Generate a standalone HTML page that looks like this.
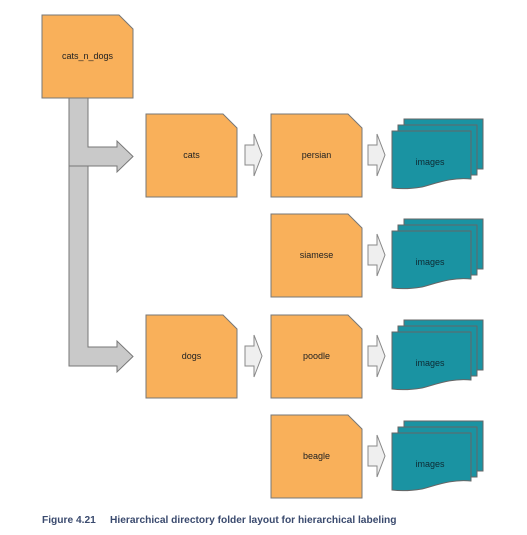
<!DOCTYPE html>
<html><head><meta charset="utf-8"><style>
html,body{margin:0;padding:0;background:#fff;}
svg{display:block;}
text{font-family:"Liberation Sans",sans-serif;}
</style></head><body>
<svg width="527" height="535" viewBox="0 0 527 535" xmlns="http://www.w3.org/2000/svg">
<defs>
<g id="folder"><path d="M0,0 H77 L91,14 V83 H0 Z" fill="#f9b05a" stroke="#777" stroke-width="1"/></g>
<g id="arr"><path d="M0,11 H9 V0 L17,21 L9,42 V31 H0 Z" fill="#efefef" stroke="#888" stroke-width="1"/></g>
<g id="imgs">
<rect x="12" y="-12" width="79" height="50" fill="#1a93a2" stroke="#666"/>
<rect x="6" y="-6" width="79" height="50" fill="#1a93a2" stroke="#666"/>
<path d="M0,0 H79 V48 C60,46 45,52 30,56 C18,58 8,58 0,57 Z" fill="#1a93a2" stroke="#666"/>
<text x="38" y="34" font-size="9" text-anchor="middle" fill="#0d2a33">images</text>
</g>
</defs>
<path d="M69,98 H88 V147 H117 V141 L133,156.5 L117,172 V166 H88 V347 H117 V341 L133,356.5 L117,372 V366 H69 Z" fill="#c9c9c9" stroke="#777" stroke-width="1"/>
<line x1="69" y1="166" x2="88" y2="166" stroke="#777"/>

<use href="#folder" x="42" y="15"/>
<text x="87.5" y="59" font-size="9" text-anchor="middle" fill="#222">cats_n_dogs</text>

<use href="#folder" x="146" y="114"/><text x="191.5" y="158" font-size="9" text-anchor="middle" fill="#222">cats</text>
<use href="#folder" x="146" y="315"/><text x="191.5" y="359" font-size="9" text-anchor="middle" fill="#222">dogs</text>

<use href="#arr" x="245" y="134"/>
<use href="#arr" x="245" y="335"/>

<use href="#folder" x="271" y="114"/><text x="316.5" y="158" font-size="9" text-anchor="middle" fill="#222">persian</text>
<use href="#folder" x="271" y="214"/><text x="316.5" y="258" font-size="9" text-anchor="middle" fill="#222">siamese</text>
<use href="#folder" x="271" y="315"/><text x="316.5" y="359" font-size="9" text-anchor="middle" fill="#222">poodle</text>
<use href="#folder" x="271" y="415"/><text x="316.5" y="459" font-size="9" text-anchor="middle" fill="#222">beagle</text>

<use href="#arr" x="368" y="134"/>
<use href="#arr" x="368" y="234"/>
<use href="#arr" x="368" y="335"/>
<use href="#arr" x="368" y="435"/>

<use href="#imgs" x="392" y="131"/>
<use href="#imgs" x="392" y="231"/>
<use href="#imgs" x="392" y="332"/>
<use href="#imgs" x="392" y="433"/>

<text x="42" y="523" font-size="10.2" font-weight="bold" fill="#3a4a6e">Figure 4.21</text>
<text x="110" y="523" font-size="10.2" font-weight="bold" fill="#3a4a6e">Hierarchical directory folder layout for hierarchical labeling</text>
</svg>
</body></html>
